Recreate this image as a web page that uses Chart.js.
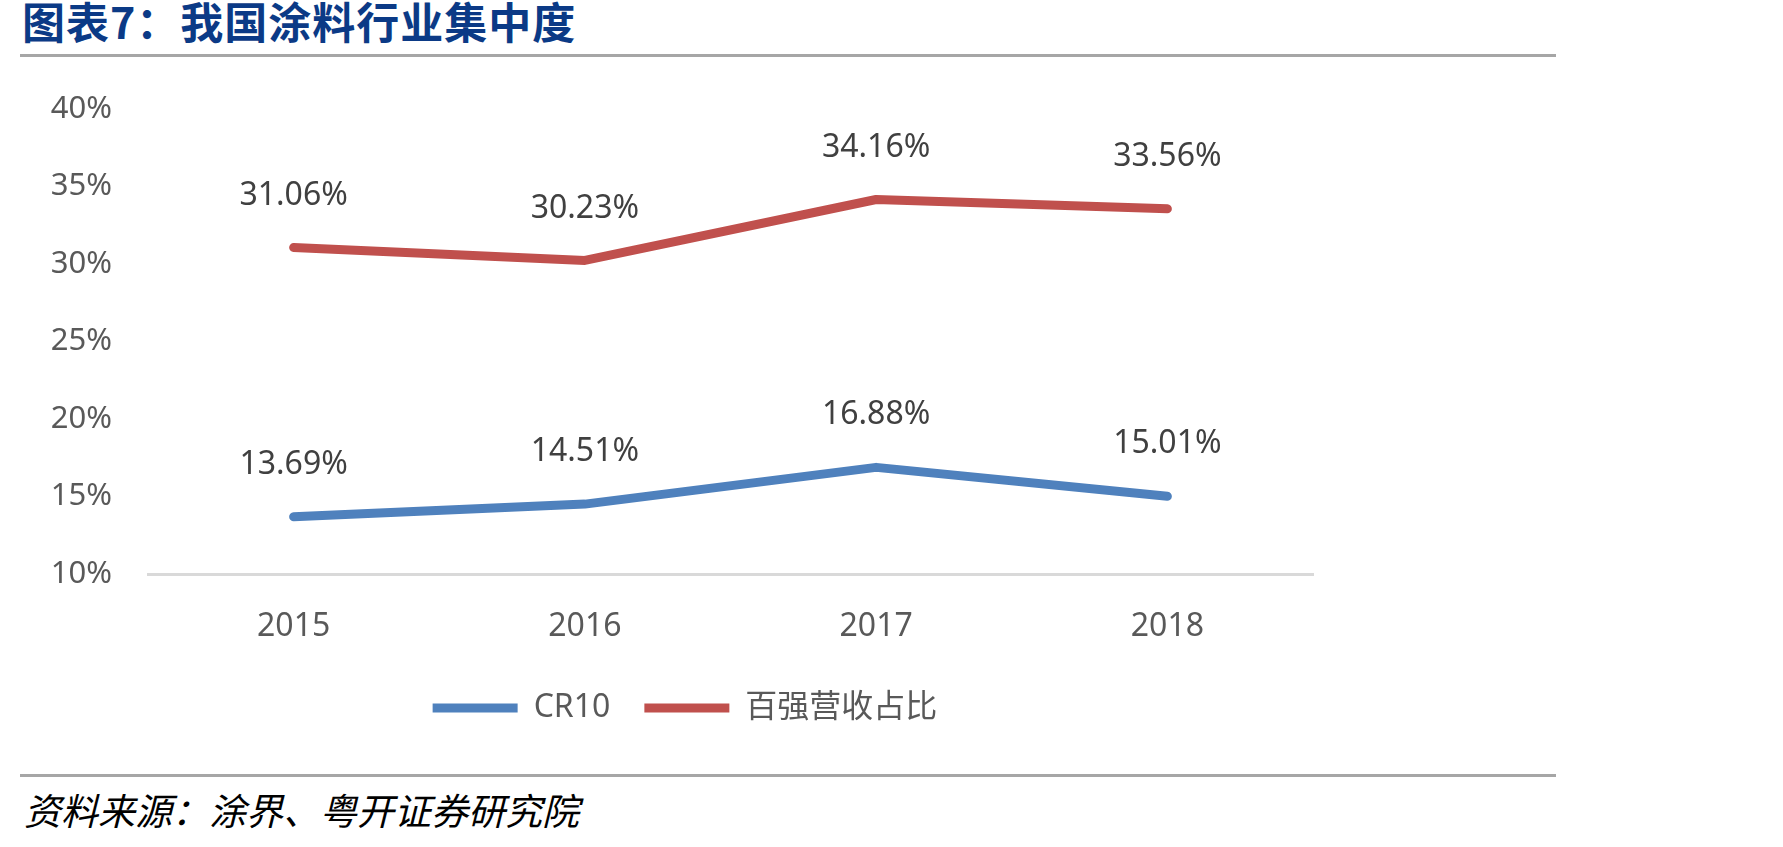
<!DOCTYPE html>
<html>
<head>
<meta charset="utf-8">
<script src="https://cdn.jsdelivr.net/npm/chart.js@4/dist/chart.umd.min.js"></script>
<style>
    body { margin: 0; background: #fff; width: 1783px; height: 847px; position: relative; overflow: hidden; }
    .title { position: absolute; left: 22px; top: -11px; font: bold 43px "Noto Sans CJK SC", sans-serif; color: #0b3a86; letter-spacing: 1px; }
    .rule { position: absolute; left: 20px; width: 1536px; height: 3px; background: #a6a6a6; }
    .source { position: absolute; left: 24px; top: 782px; font: italic 37px "Noto Sans CJK SC", sans-serif; color: #000; }
    #wrap { position: absolute; left: 0; top: 70px; width: 1400px; height: 690px; }
</style>
</head>
<body>
<div class="title">图表7：我国涂料行业集中度</div>
<div class="rule" style="top:54px"></div>
<div id="wrap"><canvas id="concChart"></canvas></div>
<div class="rule" style="top:774px"></div>
<div class="source">资料来源：涂界、粤开证券研究院</div>
<script>
/* 我国涂料行业集中度 */
const years = ["2015", "2016", "2017", "2018"];
const cr10 = [13.69, 14.51, 16.88, 15.01];
const top100Share = [31.06, 30.23, 34.16, 33.56];
const seriesNames = ["CR10", "百强营收占比"];

const FONT = "'Noto Sans', 'Noto Sans CJK SC', sans-serif";

// value labels above each point
const pointLabels = {
    id: "pointLabels",
    afterDatasetsDraw: function (chart) {
        const ctx = chart.ctx;
        ctx.save();
        ctx.font = "32px " + FONT;
        ctx.fillStyle = "#404040";
        ctx.textAlign = "center";
        ctx.textBaseline = "middle";
        chart.data.datasets.forEach(function (ds, i) {
            chart.getDatasetMeta(i).data.forEach(function (pt, j) {
                ctx.fillText(ds.data[j].toFixed(2) + "%", pt.x, pt.y - 52);
            });
        });
        ctx.restore();
    }
};

document.addEventListener("DOMContentLoaded", function () {
    const ctx = document.getElementById("concChart");

    new Chart(ctx, {
        type: "line",
        data: {
            labels: years,
            datasets: [{
                label: seriesNames[0],
                data: cr10,
                borderColor: "#4f81bd",
                backgroundColor: "#4f81bd",
                borderWidth: 9,
                borderCapStyle: "round",
                borderJoinStyle: "round",
                pointRadius: 0,
                pointStyle: "line",
                tension: 0
            }, {
                label: seriesNames[1],
                data: top100Share,
                borderColor: "#c0504d",
                backgroundColor: "#c0504d",
                borderWidth: 9,
                borderCapStyle: "round",
                borderJoinStyle: "round",
                pointRadius: 0,
                pointStyle: "line",
                tension: 0
            }]
        },
        options: {
            responsive: true,
            maintainAspectRatio: false,
            animation: false,
            layout: {
                padding: { top: 39, left: 0, right: 30, bottom: 26 }
            },
            plugins: {
                tooltip: { enabled: false },
                legend: {
                    position: "bottom",
                    labels: {
                        usePointStyle: true,
                        pointStyle: "line",
                        pointStyleWidth: 85,
                        padding: 34,
                        color: "#595959",
                        font: { family: FONT, size: 32 }
                    }
                }
            },
            scales: {
                y: {
                    min: 10,
                    max: 40,
                    afterFit: function (scale) { scale.width = 148; },
                    ticks: {
                        stepSize: 5,
                        padding: 0,
                        color: "#595959",
                        font: { family: FONT, size: 31 },
                        callback: function (v) { return v + "%"; }
                    },
                    // invisible tick marks keep the labels clear of the plot
                    grid: { drawOnChartArea: false, drawTicks: true, tickLength: 36, color: "rgba(0,0,0,0)" },
                    border: { display: false }
                },
                // empty right-hand strip so the legend sits where the original has it
                yPad: {
                    position: "right",
                    afterFit: function (scale) { scale.width = 57; },
                    ticks: { display: false },
                    grid: { display: false, drawTicks: false },
                    border: { display: false }
                },
                x: {
                    offset: true,
                    afterFit: function (scale) { scale.height = 84; },
                    ticks: {
                        padding: 34,
                        color: "#595959",
                        font: { family: FONT, size: 32 }
                    },
                    grid: { display: false, drawTicks: false, offset: true },
                    border: { display: true, color: "#d9d9d9", width: 3 }
                }
            }
        },
        plugins: [pointLabels]
    });
});
</script>
</body>
</html>
